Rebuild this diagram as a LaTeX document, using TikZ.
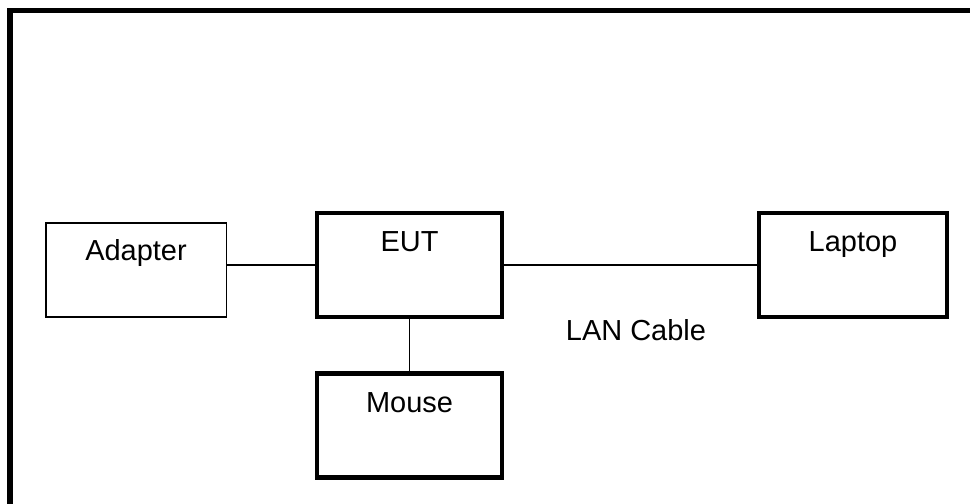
\documentclass[tikz,border=0pt]{standalone}
\usepackage{fontspec}
\setmainfont{Liberation Sans}
\usepackage{tikz}
\usetikzlibrary{positioning,calc}
\tikzset{
  link/.style={draw=black, line width=0.75pt},
  frame/.style={draw=black, line width=3.9pt},
  thinbox/.style={rectangle, draw=black, line width=0.75pt, inner sep=0pt, align=center,
    text height=0.95cm, text depth=1.4cm, font=\fontsize{20.6}{24}\selectfont},
  thickbox/.style={rectangle, draw=black, line width=3.2pt, inner sep=0pt, align=center,
    text height=0.975cm, text depth=1.625cm, font=\fontsize{20.6}{24}\selectfont},
  caption/.style={inner sep=0pt, anchor=base, font=\fontsize{20.6}{24}\selectfont}
}
\begin{document}
\begin{tikzpicture}[x=0.025cm, y=-0.025cm]
  \useasboundingbox (0,0) rectangle (970,504);
  \draw[frame] (970,10.5) -| (10,504);

  \node[thinbox, minimum width=4.5cm] (adapter) at (136,270) {Adapter};
  \node[thickbox, minimum width=4.625cm] (eut) at (409.5,265) {EUT};
  \node[thickbox, minimum width=4.625cm] (mouse) at (409.5,425.5) {Mouse};
  \node[thickbox, minimum width=4.7cm] (laptop) at (853,265) {Laptop};
  \node[caption] (lan) at (636,340) {LAN Cable};

  \draw[link] (eut.west -| adapter.east) -- (eut.west);
  \draw[link] (eut) -- (laptop);
  \draw[link] (eut) -- (mouse);
\end{tikzpicture}
\end{document}
